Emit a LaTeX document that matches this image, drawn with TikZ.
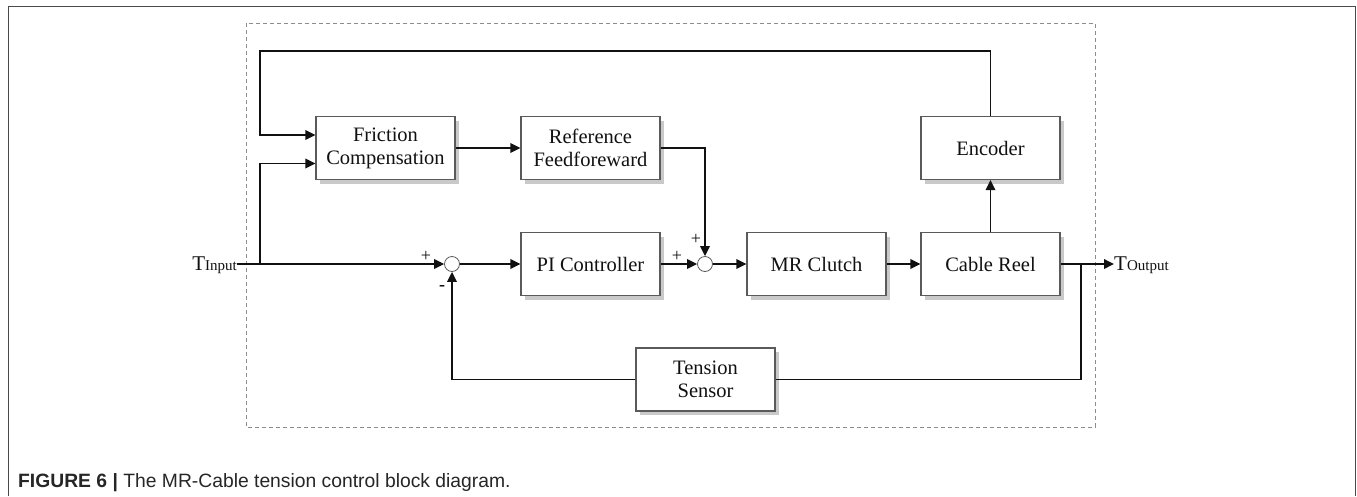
\documentclass[tikz,border=0pt]{standalone}
\usepackage{fontspec}
\setmainfont{Liberation Serif}
\setsansfont{Liberation Sans}
\usepackage{tikz}
\usetikzlibrary{arrows.meta,calc,shadows}
\definecolor{INK}{HTML}{111111}
\definecolor{EDGE}{HTML}{5A5A5A}
\definecolor{DASH}{HTML}{8C8C8C}
\definecolor{FRAME}{HTML}{4A4A4A}

\begin{document}
\begin{tikzpicture}[x=1pt,y=-1pt]
\tikzset{blk/.style={draw=EDGE,fill=white,line width=1.1pt,minimum width=139pt,minimum height=63pt,inner sep=0pt,
 align=center,font=\fontsize{20.5}{23}\selectfont,text=INK,
 drop shadow={shadow xshift=3.5pt,shadow yshift=-4pt,fill=black!30,opacity=0.7}},
 sum/.style={circle,draw=EDGE,fill=white,line width=0.8pt,minimum size=15pt,inner sep=0pt},
 wire/.style={line width=1.8pt,INK},sig/.style={wire,-{Triangle[length=10pt,width=9.5pt]}},
 sgn/.style={font=\fontsize{18}{18}\selectfont,text=INK,inner sep=0pt}}
\useasboundingbox (0,0) rectangle (1357,496);
% outer frame and dashed boundary
\draw[FRAME,line width=0.9pt] (8,496) -- (8,6) -- (1355,6) -- (1355,496);
\draw[DASH,line width=0.8pt,dash pattern=on 4pt off 3pt] (246,23) rectangle (1095,427);
% blocks
\node[blk] (fric) at (385.5,148) {Friction\\Compensation};
\node[blk] (reff) at (590.5,148) {Reference\\Feedforeward};
\node[blk] (pic) at (590.5,264) {PI Controller};
\node[blk] (mrc) at (816.5,264) {MR Clutch};
\node[blk] (reel) at (990.5,264) {Cable Reel};
\node[blk] (enc) at (990.5,148) {Encoder};
\node[blk] (tsen) at (705.5,379.5) {Tension\\Sensor};
\node[sum] (sumA) at (452,264) {};
\node[sum] (sumB) at (705,264) {};
% terminals
\node[anchor=east,inner sep=0pt,font=\fontsize{21}{21}\selectfont,text=INK] (tin) at (237,265) {T{\fontsize{15}{15}\selectfont Input}};
\node[anchor=west,inner sep=0pt,font=\fontsize{21}{21}\selectfont,text=INK] (tout) at (1114,265) {T{\fontsize{15}{15}\selectfont Output}};
\coordinate (brA) at (260,264);
\coordinate (brB) at (1081,264);
\coordinate (topL) at (260,51);
% signals
\draw[sig] (tin.east|-sumA) -- (sumA.west);
\draw[sig] (brA) |- ([yshift=-15.5pt]fric.west);
\draw[sig] (enc.north) |- (topL) |- ([yshift=13pt]fric.west);
\draw[sig] (fric) -- (reff);
\draw[sig] (reff.east) -| (sumB.north);
\draw[sig] (sumA) -- (pic);
\draw[sig] (pic) -- (sumB);
\draw[sig] (sumB) -- (mrc);
\draw[sig] (mrc) -- (reel);
\draw[sig] (reel) -- (enc);
\draw[sig] (reel.east) -- (tout.west|-reel);
\draw[wire] (brB) |- (tsen.east);
\draw[sig] (tsen.west) -| (sumA.south);
% signs
\node[sgn] (pA) at (426,256) {+};
\node[sgn,font=\bfseries\fontsize{18}{18}\selectfont] (mA) at (442,288) {-};
\node[sgn] (pB) at (677,256) {+};
\node[sgn] (pC) at (696,239) {+};
% caption
\node[anchor=base west,inner sep=0pt,font=\sffamily\fontsize{19.3}{19.3}\selectfont,text=black!85] (cap) at (18,487)
 {\textbf{FIGURE 6 |} The MR-Cable tension control block diagram.};
\end{tikzpicture}
\end{document}
